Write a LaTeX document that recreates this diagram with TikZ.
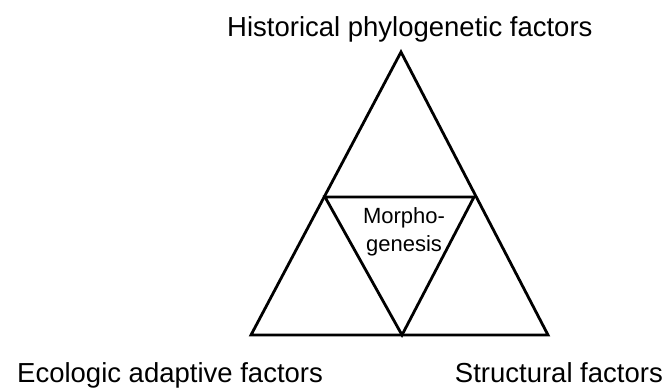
\documentclass[tikz,border=0pt]{standalone}
\usepackage{fontspec}
\setmainfont{Liberation Sans}
\begin{document}
\begin{tikzpicture}[x=1pt,y=-1pt,
  edge/.style={line width=2.8pt,line join=miter,line cap=round},
  lbl/.style={font=\fontsize{27.5}{30}\selectfont,inner sep=0pt},
  small/.style={font=\fontsize{22}{28}\selectfont,inner sep=0pt,align=center}]
\useasboundingbox (0,0) rectangle (667,389);
\coordinate (A) at (401,52);
\coordinate (BL) at (251,335);
\coordinate (BR) at (548,335);
\coordinate (ML) at (325,197);
\coordinate (MR) at (474,197);
\coordinate (MB) at (402,335);
\draw[edge] (A) -- (BR) -- (BL) -- cycle;
\draw[edge] (ML) -- (MR) -- (MB) -- cycle;
\node[lbl,anchor=base west] (top) at (227,36) {Historical phylogenetic factors};
\node[lbl,anchor=base west] (eco) at (17,382) {Ecologic adaptive factors};
\node[lbl,anchor=base east] (str) at (663,382) {Structural factors};
\node[small] (morph) at (404,232) {Morpho-\\genesis};
\end{tikzpicture}
\end{document}
